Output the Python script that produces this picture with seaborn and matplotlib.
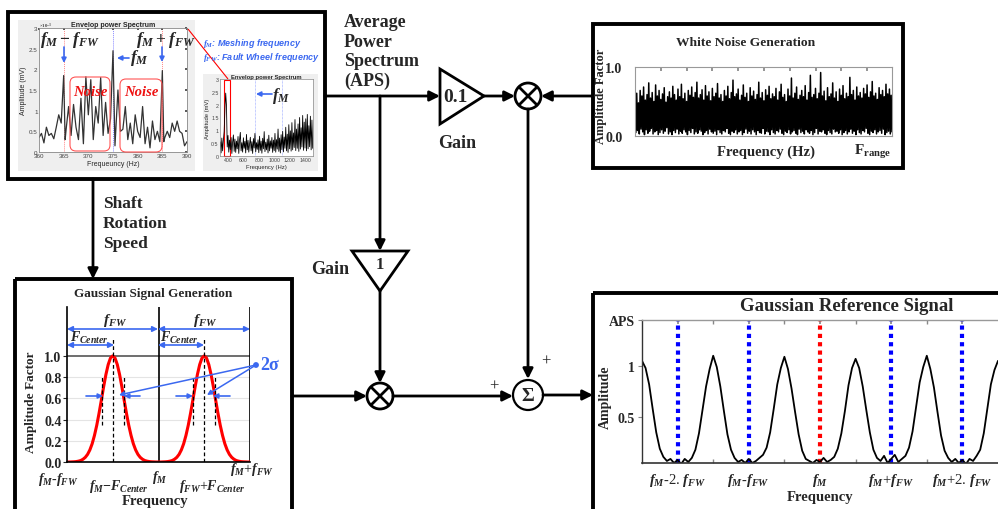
import numpy as np
import matplotlib
matplotlib.use("Agg")
import matplotlib.pyplot as plt
import seaborn as sns
from matplotlib.patches import Rectangle, Circle, Polygon, FancyBboxPatch

# ---------------- data ----------------
# Envelope power spectrum (zoomed, 360-390 Hz), amplitude in 1e-3 mV
spec_freq = [360, 360.5, 361, 361.5, 362, 362.5, 363, 363.5, 364, 364.5, 365, 365.3,
             365.5, 366, 366.5, 367, 367.5, 368, 368.5, 369, 369.5, 370, 370.5, 371,
             371.5, 372, 372.5, 373, 373.5, 374, 374.5, 375, 375.4, 376, 376.5, 377,
             377.5, 378, 378.5, 379, 379.5, 380, 380.5, 381, 381.5, 382, 382.5, 383,
             383.5, 384, 384.5, 385, 385.3, 385.5, 386, 386.5, 387, 387.5, 388, 388.5,
             389, 389.5, 390]
spec_amp = [0.35, 0.45, 0.22, 0.60, 0.40, 0.45, 0.32, 0.60, 0.90, 0.70, 1.85, 0.30,
            0.55, 1.10, 0.40, 1.15, 0.60, 0.30, 1.30, 0.20, 1.82, 0.90, 1.75, 0.30,
            1.10, 0.70, 1.80, 0.40, 1.20, 0.45, 0.80, 2.45, 0.15, 1.50, 0.50, 0.55,
            1.10, 0.30, 0.70, 0.20, 0.90, 0.50, 0.35, 1.10, 0.20, 0.60, 0.10, 0.75,
            0.30, 0.50, 0.25, 1.97, 0.25, 0.35, 0.50, 0.35, 0.70, 0.50, 0.75, 0.50,
            0.45, 0.15, 0.25]

# Envelope power spectrum (full range inset), 300-1500 Hz step 10
inset_amp = [0.55, 0.12, 0.70, 0.20, 0.62, 0.95, 1.85, 2.45, 1.97, 0.35,
             0.80, 0.15, 0.62, 0.25, 0.72, 0.10, 0.55, 0.82, 0.18, 0.66,
             0.14, 0.58, 0.28, 0.76, 0.10, 0.63, 0.92, 0.20, 0.52, 0.15,
             0.71, 0.30, 0.57, 0.12, 0.84, 0.24, 0.61, 0.15, 0.47, 0.73,
             0.20, 0.56, 0.10, 0.68, 0.31, 0.88, 0.16, 0.52, 0.26, 0.63,
             0.13, 0.77, 0.22, 0.58, 0.11, 0.69, 0.28, 0.95, 0.17, 0.54,
             0.24, 0.66, 0.12, 0.81, 0.20, 0.59, 0.30, 0.72, 0.14, 0.62,
             0.21, 0.88, 0.15, 0.64, 0.27, 1.05, 0.18, 0.70, 0.12, 0.83,
             0.25, 0.96, 0.16, 0.74, 0.30, 1.12, 0.20, 0.85, 0.14, 1.22,
             0.28, 0.98, 0.19, 1.30, 0.24, 0.90, 0.33, 1.42, 0.21, 1.05,
             0.30, 1.25, 0.18, 1.50, 0.27, 1.10, 0.35, 1.58, 0.22, 1.32,
             0.31, 1.45, 0.20, 1.62, 0.28, 1.18, 0.36, 1.55, 0.24, 1.40,
             0.30]
inset_freq = np.linspace(300, 1500, len(inset_amp))

# White noise: local maxima and minima
wn_peaks = [0.55, 0.62, 0.48, 0.66, 0.58, 0.71, 0.52, 0.60, 0.77, 0.55, 0.63, 0.50, 0.74, 0.58, 0.66, 0.53, 0.61, 0.70, 0.49, 0.57,
            0.64, 0.55, 0.72, 0.60, 0.52, 0.68, 0.57, 0.75, 0.54, 0.62, 0.50, 0.66, 0.59, 0.71, 0.56, 0.63, 0.78, 0.55, 0.60, 0.67,
            0.52, 0.73, 0.58, 0.64, 0.51, 0.69, 0.57, 0.62, 0.76, 0.55, 0.60, 0.50, 0.66, 0.58, 0.72, 0.54, 0.63, 0.81, 0.57, 0.61,
            0.68, 0.52, 0.59, 0.74, 0.56, 0.62, 0.50, 0.70, 0.58, 0.65, 0.53, 0.60, 0.78, 0.55, 0.63, 0.51, 0.67, 0.59, 0.72, 0.54,
            0.61, 0.57, 0.69, 0.52, 0.64, 0.75, 0.56, 0.60, 0.50, 0.68, 0.58, 0.84, 0.55, 0.62, 0.71, 0.53, 0.59, 0.66, 0.57, 0.73,
            0.52, 0.63, 0.88, 0.56, 0.60, 0.69, 0.54, 0.62, 0.92, 0.58, 0.65, 0.51, 0.70, 0.57, 0.61, 0.77, 0.55, 0.64, 0.50, 0.68,
            0.59, 0.73, 0.54, 0.62, 0.57, 0.85, 0.60, 0.66, 0.52, 0.71, 0.58, 0.63, 0.55, 0.69, 0.61, 0.74, 0.56, 0.64, 0.79, 0.58,
            0.62, 0.53, 0.70, 0.60, 0.66, 0.57, 0.75, 0.61, 0.68, 0.59]
wn_troughs = [0.05, 0.08, 0.03, 0.10, 0.06, 0.02, 0.09, 0.04, 0.07, 0.11, 0.03, 0.06, 0.08, 0.02, 0.05, 0.09, 0.04, 0.07, 0.12, 0.03,
              0.06, 0.02, 0.08, 0.05, 0.10, 0.03, 0.07, 0.04, 0.09, 0.06, 0.02, 0.08, 0.05, 0.11, 0.03, 0.06, 0.04, 0.09, 0.07, 0.02,
              0.05, 0.08, 0.03, 0.10, 0.06, 0.04, 0.07, 0.02, 0.09, 0.05, 0.03, 0.08, 0.06, 0.11, 0.04, 0.02, 0.07, 0.05, 0.09, 0.03,
              0.06, 0.08, 0.02, 0.05, 0.10, 0.04, 0.07, 0.03, 0.09, 0.06, 0.02, 0.08, 0.05, 0.04, 0.11, 0.03, 0.07, 0.06, 0.02, 0.09,
              0.05, 0.03, 0.08, 0.06, 0.10, 0.04, 0.02, 0.07, 0.05, 0.09, 0.03, 0.06, 0.08, 0.04, 0.02, 0.10, 0.05, 0.07, 0.03, 0.09,
              0.06, 0.04, 0.08, 0.02, 0.05, 0.11, 0.03, 0.07, 0.06, 0.09, 0.04, 0.02, 0.08, 0.05, 0.03, 0.10, 0.06, 0.07, 0.04, 0.09,
              0.02, 0.05, 0.08, 0.03, 0.06, 0.10, 0.04, 0.07, 0.02, 0.09, 0.05, 0.03, 0.08, 0.06, 0.11, 0.04, 0.02, 0.07, 0.05, 0.09,
              0.03, 0.06, 0.08, 0.04, 0.10, 0.02, 0.05, 0.07, 0.03, 0.06]

# Gaussian signal generation (x in units of f_FW relative to f_M)
gauss_amp = [0.0, 0.0, 0.001, 0.002, 0.004, 0.008, 0.014, 0.026, 0.044, 0.072, 0.114, 0.172, 0.25, 0.345, 0.458, 0.581, 0.707, 0.823, 0.917, 0.979, 1.0,
             0.979, 0.917, 0.823, 0.707, 0.581, 0.458, 0.345, 0.25, 0.172, 0.114, 0.072, 0.044, 0.026, 0.014, 0.008, 0.004, 0.002, 0.001, 0.0, 0.0,
             0.0, 0.001, 0.002, 0.004, 0.008, 0.014, 0.026, 0.044, 0.072, 0.114, 0.172, 0.25, 0.345, 0.458, 0.581, 0.707, 0.823, 0.917, 0.979, 1.0,
             0.979, 0.917, 0.823, 0.707, 0.581, 0.458, 0.345, 0.25, 0.172, 0.114, 0.072, 0.044, 0.026, 0.014, 0.008, 0.004, 0.002, 0.001, 0.0, 0.0]
gauss_x = np.linspace(-1, 1, len(gauss_amp))
gauss_ticks = [r"$f_M$-$f_{FW}$", r"$f_M$$-$$F_{Center}$", r"$f_M$", r"$f_{FW}$+$F_{Center}$", r"$f_M$+$f_{FW}$"]

# Gaussian reference signal (x in units of f_FW relative to f_M)
ref_amp = [1.05, 0.98, 0.82, 0.58, 0.35, 0.19, 0.11, 0.07, 0.09, 0.05, 0.08, 0.04, 0.09, 0.06, 0.10, 0.18, 0.34, 0.57, 0.80, 0.97,
           1.10, 0.99, 0.80, 0.56, 0.33, 0.18, 0.10, 0.06, 0.08, 0.05, 0.09, 0.05, 0.07, 0.10, 0.13, 0.20, 0.35, 0.58, 0.82, 0.98,
           1.09, 0.97, 0.78, 0.55, 0.33, 0.17, 0.09, 0.07, 0.05, 0.08, 0.06, 0.10, 0.06, 0.08, 0.11, 0.19, 0.34, 0.56, 0.81, 0.98,
           1.07, 0.98, 0.80, 0.57, 0.35, 0.18, 0.10, 0.07, 0.12, 0.05, 0.09, 0.13, 0.06, 0.09, 0.12, 0.20, 0.36, 0.60, 0.84, 0.99,
           1.10, 0.97, 0.79, 0.55, 0.32, 0.17, 0.10, 0.06, 0.09, 0.05, 0.08, 0.04, 0.09, 0.07, 0.12, 0.18, 0.34, 0.58, 0.82, 0.96,
           1.05]
ref_x = np.linspace(-2.5, 2.5, len(ref_amp))
ref_line_pos = [-2, -1, 0, 1, 2]
ref_line_col = ["#0000ff", "#0000ff", "#ff0000", "#0000ff", "#0000ff"]
ref_ticks = [r"$f_M$-2. $f_{FW}$", r"$f_M$-$f_{FW}$", r"$f_M$", r"$f_M$+$f_{FW}$", r"$f_M$+2. $f_{FW}$"]

# ---------------- style ----------------
sns.set_theme(style="white")
plt.rcParams['font.family'] = ['Liberation Serif', 'DejaVu Serif']
plt.rcParams['mathtext.fontset'] = 'custom'
plt.rcParams['mathtext.it'] = 'Liberation Serif:italic:bold'
plt.rcParams['mathtext.rm'] = 'Liberation Serif:bold'
plt.rcParams['mathtext.bf'] = 'Liberation Serif:bold'
plt.rcParams['axes.unicode_minus'] = False

W, H = 998, 510
fig = plt.figure(figsize=(W / 100, H / 100), dpi=100)
fig.patch.set_facecolor("white")


def add_ax(x0, y0, x1, y1, z=2):
    return fig.add_axes([x0 / W, 1 - y1 / H, (x1 - x0) / W, (y1 - y0) / H], zorder=z)


bg = fig.add_axes([0, 0, 1, 1], zorder=-1)
bg.set_xlim(0, W); bg.set_ylim(H, 0); bg.axis("off")
ov = fig.add_axes([0, 0, 1, 1], zorder=10)
ov.set_xlim(0, W); ov.set_ylim(H, 0); ov.axis("off"); ov.patch.set_alpha(0)
ov.set_autoscale_on(False)

BLUE = "#3b68f0"
BOLD = dict(fontweight="bold")


def arrow(p0, p1, lw=2.0, ms=15, color="black", style="-|>"):
    ov.annotate("", xy=p1, xytext=p0,
                arrowprops=dict(arrowstyle=style, lw=lw, color=color, mutation_scale=ms,
                                shrinkA=0, shrinkB=0))


def line(p0, p1, lw=2.0, color="black"):
    ov.plot([p0[0], p1[0]], [p0[1], p1[1]], color=color, lw=lw, solid_capstyle="butt")


def box(x0, y0, x1, y1):
    ov.add_patch(Rectangle((x0, y0), x1 - x0, y1 - y0, fill=False, lw=2.8, ec="black"))


def mult(cx, cy, r=13):
    ov.add_patch(Circle((cx, cy), r, fc="white", ec="black", lw=2))
    d = r * 0.707
    line((cx - d, cy - d), (cx + d, cy + d), lw=2)
    line((cx - d, cy + d), (cx + d, cy - d), lw=2)


# ---------------- frames ----------------
box(8, 13, 325, 180)
box(593, 25, 903, 169)
box(15, 280, 292, 520)
box(593, 294, 1010, 520)
bg.add_patch(Rectangle((18, 21), 177, 151, fc="#efefef", ec="none"))
bg.add_patch(Rectangle((203, 75), 115, 97, fc="#efefef", ec="none"))

# ---------------- signal flow ----------------
arrow((325, 97), (440, 97))
ov.add_patch(Polygon([(440, 70), (440, 125), (484, 97)], closed=True, fc="white", ec="black", lw=2))
ov.text(455, 98, "0.1", ha="center", va="center", fontsize=14, **BOLD)
ov.text(457, 144, "Gain", ha="center", va="center", fontsize=13, **BOLD)
arrow((484, 97), (515, 97))
mult(528, 97)
arrow((593, 97), (541, 97))

arrow((380, 97), (380, 252))
ov.add_patch(Polygon([(352, 252), (408, 252), (380, 292)], closed=True, fc="white", ec="black", lw=2))
ov.text(380, 265, "1", ha="center", va="center", fontsize=12, **BOLD)
ov.text(330, 270, "Gain", ha="center", va="center", fontsize=13, **BOLD)
arrow((380, 292), (380, 384))
mult(380, 397)
arrow((292, 397), (367, 397))
arrow((393, 397), (513, 397))

arrow((528, 110), (528, 380))
ov.add_patch(Circle((528, 396), 15, fc="white", ec="black", lw=1.6))
ov.text(528, 397, "Σ", ha="center", va="center", fontsize=14, **BOLD)
ov.text(546, 362, "+", ha="center", va="center", fontsize=12)
ov.text(494, 387, "+", ha="center", va="center", fontsize=12)
arrow((543, 396), (593, 396))

arrow((93, 180), (93, 280))
ov.text(103, 224, "Shaft\nRotation\nSpeed", ha="left", va="center", fontsize=12.5,
        linespacing=1.3, **BOLD)
ov.text(344, 52, "Average\nPower\nSpectrum\n(APS)", ha="left", va="center", fontsize=13,
        linespacing=1.2, **BOLD)

# ---------------- top-left: envelope spectrum ----------------
SANS = "Liberation Sans"
sax = add_ax(39, 29, 187, 153)
sax.set_facecolor("white")
sns.lineplot(x=spec_freq, y=spec_amp, ax=sax, color="#333333", lw=0.9)
for f, c in [(365, "#ff8888"), (375, "#8888ff"), (385, "#ff8888")]:
    sax.axvline(f, color=c, ls=(0, (1, 1)), lw=0.7, zorder=0)
sax.set_xlim(360, 390); sax.set_ylim(0, 3)
sax.set_xticks(range(360, 391, 5))
sax.set_yticks([0, 0.5, 1, 1.5, 2, 2.5, 3])
sax.set_yticklabels(["0", "0.5", "1", "1.5", "2", "2.5", "3"])
sax.tick_params(labelsize=4.5, length=1.5, pad=1, colors="#444444", direction="in",
                top=True, right=True)
for t in sax.get_xticklabels() + sax.get_yticklabels():
    t.set_fontfamily(SANS)
for s in sax.spines.values():
    s.set_color("#888888"); s.set_linewidth(0.6)
sax.set_title("Envelop power Spectrum", fontsize=5, fontfamily=SANS, fontweight="bold", pad=1.5)
sax.set_xlabel("Frequeuncy (Hz)", fontsize=5, fontfamily=SANS, labelpad=1)
sax.set_ylabel("Amplitude (mV)", fontsize=5, fontfamily=SANS, labelpad=1)
sax.text(0.0, 1.01, r"$\times10^{-3}$", transform=sax.transAxes, fontsize=3.5, color="#444444")

ov.text(70, 40, r"$f_M - f_{FW}$", ha="center", va="center", fontsize=12.5)
ov.text(166, 40, r"$f_M + f_{FW}$", ha="center", va="center", fontsize=12.5)
ov.text(139, 58, r"$f_M$", ha="center", va="center", fontsize=12.5)
arrow((129, 59), (117, 59), lw=1.2, ms=7, color=BLUE)
arrow((64, 48), (64, 64), lw=1.2, ms=7, color=BLUE)
arrow((162, 48), (162, 63), lw=1.2, ms=7, color=BLUE)
for (x0, y0, x1, y1) in [(70, 78, 110, 152), (120, 80, 162, 153)]:
    ov.add_patch(FancyBboxPatch((x0, y0), x1 - x0, y1 - y0,
                                boxstyle="round,pad=0,rounding_size=6",
                                fill=False, ec="#ff5555", lw=0.8))
ov.text(90, 93, "Noise", ha="center", va="center", fontsize=10.5, color="#ee1111",
        fontweight="bold", fontstyle="italic")
ov.text(141, 93, "Noise", ha="center", va="center", fontsize=10.5, color="#ee1111",
        fontweight="bold", fontstyle="italic")
ov.text(203, 44, r"$f_M$: Meshing frequency", ha="left", va="center", fontsize=6.5,
        color=BLUE, fontweight="bold", fontstyle="italic", fontfamily=SANS)
ov.text(203, 57, r"$f_{FW}$: Fault Wheel frequency", ha="left", va="center", fontsize=6.5,
        color=BLUE, fontweight="bold", fontstyle="italic", fontfamily=SANS)
line((188, 30), (228, 80), lw=0.8, color="red")

iax = add_ax(220, 80, 313, 157)
iax.set_facecolor("white")
sns.lineplot(x=inset_freq, y=inset_amp, ax=iax, color="black", lw=0.6)
for f in [750, 1100]:
    iax.axvline(f, color="#8899ff", ls=(0, (1, 1)), lw=0.5, zorder=0)
iax.add_patch(Rectangle((345, 0), 80, 2.98, fill=False, ec="red", lw=0.8, clip_on=False))
iax.set_xlim(296, 1504); iax.set_ylim(0, 3)
iax.set_xticks(range(400, 1401, 200))
iax.set_yticks([0, 0.5, 1, 1.5, 2, 2.5, 3])
iax.set_yticklabels(["0", "0.5", "1", "1.5", "2", "2.5", "3"])
iax.tick_params(labelsize=3.8, length=1.2, pad=1, colors="#444444", direction="in")
for t in iax.get_xticklabels() + iax.get_yticklabels():
    t.set_fontfamily(SANS)
for s in iax.spines.values():
    s.set_color("#888888"); s.set_linewidth(0.5)
iax.set_title("Envelop power Spectrum", fontsize=4.2, fontfamily=SANS, fontweight="bold", pad=1)
iax.set_xlabel("Frequency (Hz)", fontsize=4.2, fontfamily=SANS, labelpad=1)
iax.set_ylabel("Amplitude (mV)", fontsize=4.2, fontfamily=SANS, labelpad=1)
ov.text(281, 96, r"$f_M$", ha="center", va="center", fontsize=12)
arrow((272, 95), (256, 95), lw=1.2, ms=7, color=BLUE)

# ---------------- white noise ----------------
wax = add_ax(635, 68, 892, 137)
wn_y = np.column_stack([wn_peaks, wn_troughs]).ravel()
wn_x = np.arange(len(wn_y))
sns.lineplot(x=wn_x, y=wn_y, ax=wax, color="black", lw=1.1)
wax.set_xlim(0, len(wn_y) - 1); wax.set_ylim(0, 1)
wax.set_yticks([0, 1]); wax.set_yticklabels(["0.0", "1.0"], fontsize=10, fontweight="bold")
wax.set_xticks(np.arange(30, 300, 30)); wax.set_xticklabels([])
wax.tick_params(axis="x", top=True, bottom=False, direction="in", length=3, color="#888888")
wax.tick_params(axis="y", left=False, pad=3)
for s in wax.spines.values():
    s.set_color("#999999"); s.set_linewidth(0.8)
ov.text(746, 43, "White Noise Generation", ha="center", va="center", fontsize=9.7, **BOLD)
ov.text(601, 96, "Amplitude Factor", ha="center", va="center", rotation=90, fontsize=9, **BOLD)
ov.text(766, 152, "Frequency (Hz)", ha="center", va="center", fontsize=10.5, **BOLD)
ov.text(873, 152, r"$\mathrm{F}_{\mathrm{range}}$", ha="center", va="center", fontsize=11)

# ---------------- gaussian signal generation ----------------
gax = add_ax(67, 308, 250, 463)
for yv in [0.2, 0.4, 0.6, 0.8]:
    gax.axhline(yv, color="#e4e4e4", lw=0.8, zorder=0)
gax.axhline(1.0, color="#555555", lw=1.2, zorder=1)
gax.axvline(0, color="black", lw=1.2); gax.axvline(1, color="black", lw=1.2)
sns.lineplot(x=gauss_x, y=gauss_amp, ax=gax, color="red", lw=2.2)
for c in [-0.5, 0.5]:
    gax.plot([c, c], [0, 1.16], color="black", ls="--", lw=0.9, dashes=(3, 2))
    for d in [-0.12, 0.12]:
        gax.plot([c + d, c + d], [0.35, 0.82], color="black", ls="--", lw=0.9, dashes=(3, 2))
gax.set_xlim(-1, 1); gax.set_ylim(0, 1.46)
gax.set_yticks([0, 0.2, 0.4, 0.6, 0.8, 1.0])
gax.set_yticklabels(["0.0", "0.2", "0.4", "0.6", "0.8", "1.0"], fontsize=10, fontweight="bold")
gax.set_xticks([])
gax.tick_params(axis="y", left=True, length=3, width=0.8, pad=1, direction="out")
gax.spines["top"].set_visible(False); gax.spines["right"].set_visible(False)
gax.spines["left"].set_color("black"); gax.spines["bottom"].set_color("black")
gax.spines["left"].set_linewidth(1.2); gax.spines["bottom"].set_linewidth(1.2)

ov.text(153, 294, "Gaussian Signal Generation", ha="center", va="center", fontsize=9.5, **BOLD)
ov.text(31, 402, "Amplitude Factor", ha="center", va="center", rotation=90, fontsize=9.5, **BOLD)
ov.text(155, 502, "Frequency", ha="center", va="center", fontsize=10.5, **BOLD)
for (px, py), lab in zip([(58, 480), (119, 487), (160, 478), (212, 487), (252, 470)], gauss_ticks):
    ov.text(px, py, lab, ha="center", va="center", fontsize=10)
arrow((67, 330), (158, 330), lw=1.2, ms=8, color=BLUE, style="<|-|>")
arrow((158, 330), (250, 330), lw=1.2, ms=8, color=BLUE, style="<|-|>")
arrow((67, 346), (114, 346), lw=1.2, ms=8, color=BLUE, style="<|-|>")
arrow((158, 346), (204, 346), lw=1.2, ms=8, color=BLUE, style="<|-|>")
ov.text(115, 321, r"$f_{FW}$", ha="center", va="center", fontsize=11)
ov.text(205, 321, r"$f_{FW}$", ha="center", va="center", fontsize=11)
ov.text(70, 338, r"$F_{Center}$", ha="left", va="center", fontsize=10)
ov.text(160, 338, r"$F_{Center}$", ha="left", va="center", fontsize=10)
arrow((86, 397), (103, 397), lw=1.2, ms=7, color=BLUE)
arrow((140, 397), (124, 397), lw=1.2, ms=7, color=BLUE)
arrow((176, 397), (193, 397), lw=1.2, ms=7, color=BLUE)
arrow((230, 397), (213, 397), lw=1.2, ms=7, color=BLUE)
ov.add_patch(Circle((256, 366), 2.2, fc=BLUE, ec=BLUE))
arrow((256, 366), (119, 396), lw=1.1, ms=7, color=BLUE)
arrow((256, 366), (207, 396), lw=1.1, ms=7, color=BLUE)
ov.text(260, 366, "2σ", ha="left", va="center", fontsize=13, color=BLUE, **BOLD)

# ---------------- gaussian reference signal ----------------
rax = add_ax(642, 321, 998, 464)
for xp, col in zip(ref_line_pos, ref_line_col):
    rax.axvline(xp, color=col, ls=(0, (1, 1)), lw=3, zorder=1)
sns.lineplot(x=ref_x, y=ref_amp, ax=rax, color="black", lw=1.3, zorder=2)
rax.set_xlim(-2.5, 2.5); rax.set_ylim(0.05, 1.45)
rax.set_yticks([0.5, 1, 1.45]); rax.set_yticklabels(["0.5", "1", "APS"], fontsize=10, fontweight="bold")
rax.set_xticks(ref_line_pos); rax.set_xticklabels(ref_ticks, fontsize=10.5)
rax.set_xticks([-1.5, -0.5, 0.5, 1.5], minor=True)
rax.tick_params(axis="x", which="both", direction="in", top=True, bottom=True, length=3,
                color="#888888", pad=6)
rax.tick_params(axis="y", left=True, length=3, width=0.8, pad=2, color="#888888")
rax.spines["right"].set_visible(False)
rax.spines["top"].set_color("#999999"); rax.spines["top"].set_linewidth(1)
rax.spines["left"].set_color("#333333"); rax.spines["left"].set_linewidth(1)
rax.spines["bottom"].set_color("#333333"); rax.spines["bottom"].set_linewidth(1.2)
ov.text(847, 307, "Gaussian Reference Signal", ha="center", va="center", fontsize=13.5, **BOLD)
ov.text(605, 397, "Amplitude", ha="center", va="center", rotation=90, fontsize=10, **BOLD)
ov.text(820, 498, "Frequency", ha="center", va="center", fontsize=10.5, **BOLD)

fig.savefig("out.png", dpi=100, facecolor="white")
